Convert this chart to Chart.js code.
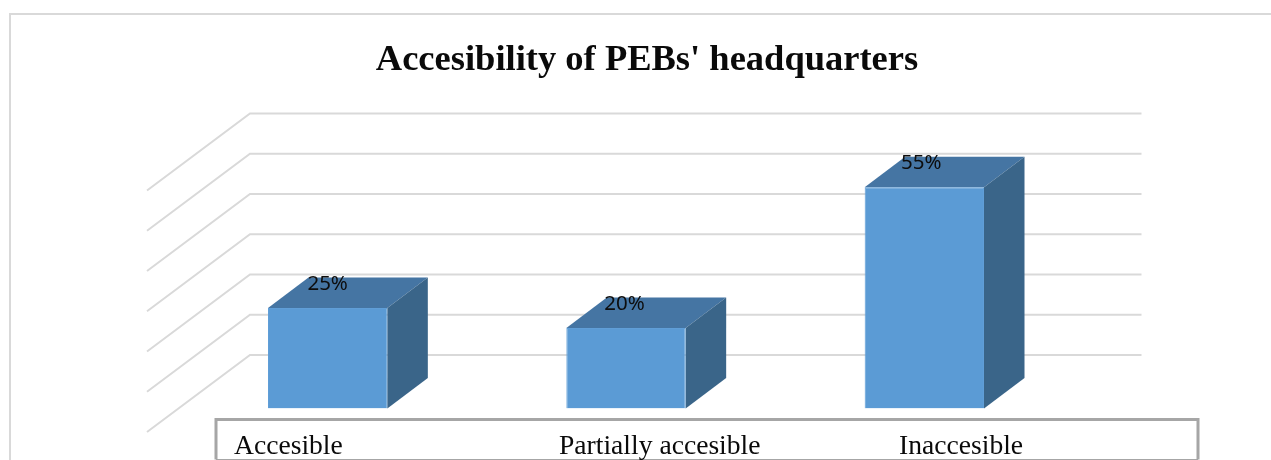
<!DOCTYPE html>
<html>
<head>
<meta charset="utf-8">
<style>html,body{margin:0;padding:0;background:#fff}#wrap{width:1271px;height:460px;position:relative}canvas{display:block}</style>
<script src="https://cdn.jsdelivr.net/npm/chart.js@4"></script>
</head>
<body>
<div id="wrap"><canvas id="c" width="1271" height="460"></canvas></div>
<script>
const titleText = "Accesibility of PEBs' headquarters";
const categories = ["Accesible", "Partially accesible", "Inaccesible"];
const values = [25, 20, 55];
const yTicks = [0, 10, 20, 30, 40, 50, 60];

const serif = '"Liberation Serif", serif';
const labelFont = '20.5px "Noto Sans", sans-serif';
const boxLabelX = [234, 559, 899];
const valueLabelShift = [0, -1.5, -3];
const barDepth = { dx: 40.5, dy: 30.5 };
const gridBack = { dx: 71.5, dy: 53.5, right: 1141.5 };
const gridFront = { dx: -31.5, dy: 23.5 };

const scene = {
  id: 'scene',
  afterLayout(chart) {
    chart.titleBlock.left += 21;
    chart.titleBlock.right += 21;
  },
  beforeDatasetsDraw(chart) {
    const { ctx, scales: { x, y }, chartArea: a } = chart;
    ctx.save();
    ctx.strokeStyle = '#d9d9d9';
    ctx.lineWidth = 2;
    ctx.beginPath();
    ctx.moveTo(1271, 14); ctx.lineTo(10, 14); ctx.lineTo(10, 460);
    ctx.stroke();
    yTicks.forEach(v => {
      const p = y.getPixelForValue(v);
      ctx.beginPath();
      ctx.moveTo(a.left + gridFront.dx, p + gridFront.dy);
      ctx.lineTo(a.left + gridBack.dx, p - gridBack.dy);
      ctx.lineTo(gridBack.right, p - gridBack.dy);
      ctx.stroke();
    });
    chart.getDatasetMeta(0).data.forEach(b => {
      const l = b.x - b.width / 2, r = b.x + b.width / 2, t = b.y, base = b.base;
      const dx = barDepth.dx, dy = barDepth.dy;
      ctx.fillStyle = '#4575a3';
      ctx.beginPath();
      ctx.moveTo(l, t); ctx.lineTo(l + dx, t - dy); ctx.lineTo(r + dx, t - dy); ctx.lineTo(r, t);
      ctx.closePath(); ctx.fill();
      ctx.fillStyle = '#3a6589';
      ctx.beginPath();
      ctx.moveTo(r, t); ctx.lineTo(r + dx, t - dy); ctx.lineTo(r + dx, base - dy); ctx.lineTo(r, base);
      ctx.closePath(); ctx.fill();
    });
    ctx.restore();
  },
  afterDraw(chart) {
    const { ctx } = chart;
    ctx.save();
    ctx.strokeStyle = '#a6a6a6';
    ctx.lineWidth = 3;
    ctx.beginPath();
    ctx.moveTo(216, 459.5); ctx.lineTo(216, 419.5); ctx.lineTo(1198, 419.5); ctx.lineTo(1198, 459.5);
    ctx.stroke();
    ctx.lineWidth = 1;
    ctx.beginPath();
    ctx.moveTo(216, 459.5); ctx.lineTo(1198, 459.5);
    ctx.stroke();
    ctx.fillStyle = '#0a0a0a';
    ctx.font = '27.6px ' + serif;
    ctx.textAlign = 'left';
    ctx.textBaseline = 'alphabetic';
    categories.forEach((c, i) => ctx.fillText(c, boxLabelX[i], 454));
    ctx.font = labelFont;
    ctx.fillStyle = '#0d0d0d';
    ctx.textAlign = 'center';
    ctx.textBaseline = 'middle';
    chart.getDatasetMeta(0).data.forEach((b, i) => {
      ctx.fillText(values[i] + '%', b.x + valueLabelShift[i], b.y - 23.5);
    });
    ctx.restore();
  }
};

new Chart(document.getElementById('c'), {
  type: 'bar',
  data: {
    labels: categories,
    datasets: [{
      data: values,
      backgroundColor: '#5b9bd5',
      borderColor: '#609ed7',
      borderWidth: 1,
      barPercentage: 0.4,
      categoryPercentage: 1
    }]
  },
  plugins: [scene],
  options: {
    responsive: false,
    animation: false,
    layout: { padding: { left: 178.5, right: 197.5, top: 42, bottom: 51.5 } },
    plugins: {
      legend: { display: false },
      tooltip: { enabled: false },
      title: {
        display: true,
        text: titleText,
        color: '#0a0a0a',
        font: { family: serif, size: 36.5, weight: 'bold', lineHeight: 1 },
        padding: { top: 0, bottom: 88.5 }
      }
    },
    scales: {
      x: { display: false },
      y: { display: false, min: 0, max: 60, ticks: { stepSize: 10 } }
    }
  }
});
</script>
</body>
</html>
